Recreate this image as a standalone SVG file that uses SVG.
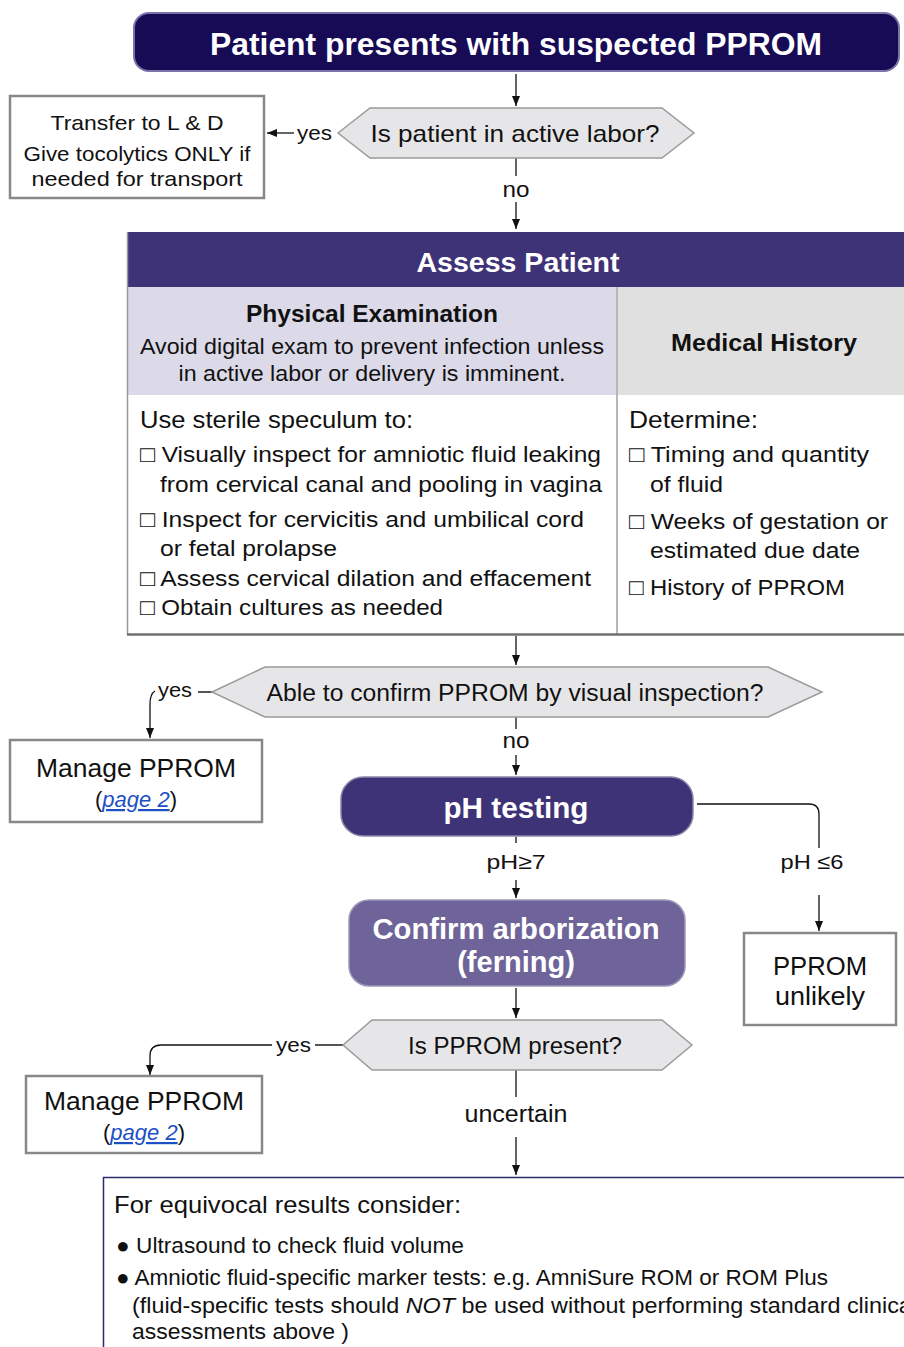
<svg xmlns="http://www.w3.org/2000/svg" width="904" height="1347" viewBox="0 0 904 1347">
<defs>
<style>
text{font-family:"Liberation Sans",Arial,"DejaVu Sans",sans-serif;fill:#111;}
.c{text-anchor:middle;}
.w{fill:#fff;font-weight:bold;}
.b{font-weight:bold;}
.hex{fill:#e6e6e8;stroke:#9a9a9a;stroke-width:1.5;}
.box{fill:#fff;stroke:#888;stroke-width:2.5;}
.ln{fill:none;stroke:#111;stroke-width:1.3;}
.lk{fill:#1d4fc4;font-style:italic;text-decoration:underline;}
</style>
<marker id="ah" viewBox="0 0 10 10" refX="10" refY="5" markerWidth="10" markerHeight="10" markerUnits="userSpaceOnUse" orient="auto"><path d="M0,1 L10,5 L0,9 Z" fill="#111"/></marker>
</defs>
<rect width="904" height="1347" fill="#fff"/>

<g id="connectors">
<line class="ln" x1="516" y1="74" x2="516" y2="106" marker-end="url(#ah)"/>
<line class="ln" x1="294" y1="133" x2="267" y2="133" marker-end="url(#ah)"/>
<line class="ln" x1="516" y1="158" x2="516" y2="176"/>
<line class="ln" x1="516" y1="202" x2="516" y2="229" marker-end="url(#ah)"/>
<line class="ln" x1="516" y1="636" x2="516" y2="665" marker-end="url(#ah)"/>
<line class="ln" x1="198" y1="692" x2="212" y2="692" style="stroke:#555;stroke-width:2"/>
<path class="ln" d="M155,691 Q150,694 150,704 L150,738" marker-end="url(#ah)"/>
<line class="ln" x1="516" y1="717" x2="516" y2="729"/>
<line class="ln" x1="516" y1="755" x2="516" y2="775" marker-end="url(#ah)"/>
<path class="ln" d="M697,804 L809,804 Q819,804 819,814 L819,848"/>
<line class="ln" x1="819" y1="895" x2="819" y2="931" marker-end="url(#ah)"/>
<line class="ln" x1="516" y1="837" x2="516" y2="843"/>
<line class="ln" x1="516" y1="880" x2="516" y2="898" marker-end="url(#ah)"/>
<line class="ln" x1="516" y1="988" x2="516" y2="1018" marker-end="url(#ah)"/>
<line class="ln" x1="315" y1="1045" x2="343" y2="1045" style="stroke:#555;stroke-width:2"/>
<path class="ln" d="M272,1045 L161,1045 Q150,1045 150,1056 L150,1075" marker-end="url(#ah)"/>
<line class="ln" x1="516" y1="1070" x2="516" y2="1097"/>
<line class="ln" x1="516" y1="1137" x2="516" y2="1175" marker-end="url(#ah)"/>
</g>

<g id="n-start">
<rect x="134" y="13" width="765" height="58" rx="15" fill="#170b56" stroke="#7a74a8" stroke-width="2"/>
<text class="c w" x="516" y="55" font-size="31" textLength="612" lengthAdjust="spacingAndGlyphs">Patient presents with suspected PPROM</text>
</g>

<g id="n-labor">
<polygon class="hex" points="338,133 370,108 662,108 694,133 662,158 370,158"/>
<text class="c" x="515" y="142" font-size="24" textLength="289" lengthAdjust="spacingAndGlyphs">Is patient in active labor?</text>
<text x="297" y="140" font-size="21" textLength="35" lengthAdjust="spacingAndGlyphs">yes</text>
<text class="c" x="516" y="197" font-size="22" textLength="27" lengthAdjust="spacingAndGlyphs">no</text>
</g>

<g id="n-transfer">
<rect class="box" x="10" y="96" width="254" height="102"/>
<text class="c" x="137" y="130" font-size="21" textLength="173" lengthAdjust="spacingAndGlyphs">Transfer to L &amp; D</text>
<text class="c" x="137" y="161" font-size="21" textLength="227" lengthAdjust="spacingAndGlyphs">Give tocolytics ONLY if</text>
<text class="c" x="137" y="186" font-size="21" textLength="211" lengthAdjust="spacingAndGlyphs">needed for transport</text>
</g>

<g id="n-assess">
<rect x="127" y="232" width="790" height="55" fill="#3f3377"/>
<text class="c w" x="518" y="272" font-size="28" textLength="203" lengthAdjust="spacingAndGlyphs">Assess Patient</text>
<rect x="127" y="287" width="490" height="108" fill="#dcdae8"/>
<rect x="617" y="287" width="300" height="108" fill="#e0e0e0"/>
<line x1="617" y1="287" x2="617" y2="634" stroke="#b8b8b8" stroke-width="2"/>
<line x1="127.5" y1="232" x2="127.5" y2="634" stroke="#999" stroke-width="1.5"/>
<line x1="127" y1="634.5" x2="904" y2="634.5" stroke="#6f6f6f" stroke-width="2.5"/>
<text class="c b" x="372" y="322" font-size="24" textLength="252" lengthAdjust="spacingAndGlyphs">Physical Examination</text>
<text class="c" x="372" y="354" font-size="22" textLength="464" lengthAdjust="spacingAndGlyphs">Avoid digital exam to prevent infection unless</text>
<text class="c" x="372" y="381" font-size="22" textLength="387" lengthAdjust="spacingAndGlyphs">in active labor or delivery is imminent.</text>
<text class="c b" x="764" y="351" font-size="24" textLength="186" lengthAdjust="spacingAndGlyphs">Medical History</text>
<text x="140" y="428" font-size="24" textLength="273" lengthAdjust="spacingAndGlyphs">Use sterile speculum to:</text>
<text x="140" y="462" font-size="22.5" textLength="461" lengthAdjust="spacingAndGlyphs">□ Visually inspect for amniotic fluid leaking</text>
<text x="160" y="492" font-size="22.5" textLength="442" lengthAdjust="spacingAndGlyphs">from cervical canal and pooling in vagina</text>
<text x="140" y="527" font-size="22.5" textLength="444" lengthAdjust="spacingAndGlyphs">□ Inspect for cervicitis and umbilical cord</text>
<text x="160" y="556" font-size="22.5" textLength="177" lengthAdjust="spacingAndGlyphs">or fetal prolapse</text>
<text x="140" y="586" font-size="22.5" textLength="451" lengthAdjust="spacingAndGlyphs">□ Assess cervical dilation and effacement</text>
<text x="140" y="615" font-size="22.5" textLength="303" lengthAdjust="spacingAndGlyphs">□ Obtain cultures as needed</text>
<text x="629" y="428" font-size="24" textLength="129" lengthAdjust="spacingAndGlyphs">Determine:</text>
<text x="629" y="462" font-size="22.5" textLength="240" lengthAdjust="spacingAndGlyphs">□ Timing and quantity</text>
<text x="650" y="492" font-size="22.5" textLength="73" lengthAdjust="spacingAndGlyphs">of fluid</text>
<text x="629" y="529" font-size="22.5" textLength="259" lengthAdjust="spacingAndGlyphs">□ Weeks of gestation or</text>
<text x="650" y="558" font-size="22.5" textLength="210" lengthAdjust="spacingAndGlyphs">estimated due date</text>
<text x="629" y="595" font-size="22.5" textLength="216" lengthAdjust="spacingAndGlyphs">□ History of PPROM</text>
</g>

<g id="n-visual">
<polygon class="hex" points="212,692 265,667 768,667 822,692 768,717 265,717"/>
<text class="c" x="515" y="701" font-size="23.5" textLength="497" lengthAdjust="spacingAndGlyphs">Able to confirm PPROM by visual inspection?</text>
<text x="158" y="697" font-size="21" textLength="34" lengthAdjust="spacingAndGlyphs">yes</text>
<text class="c" x="516" y="748" font-size="22" textLength="27" lengthAdjust="spacingAndGlyphs">no</text>
</g>

<g id="n-manage1">
<rect class="box" x="10" y="740" width="252" height="82"/>
<text class="c" x="136" y="777" font-size="26" textLength="200" lengthAdjust="spacingAndGlyphs">Manage PPROM</text>
<text class="c" x="136" y="807" font-size="22">(<tspan class="lk">page 2</tspan>)</text>
</g>

<g id="n-ph">
<rect x="341" y="777" width="352" height="59" rx="22" fill="#3f3377" stroke="#8a86a8" stroke-width="1.5"/>
<text class="c w" x="516" y="818" font-size="30" textLength="145" lengthAdjust="spacingAndGlyphs">pH testing</text>
<text class="c" x="516" y="869" font-size="21" textLength="59" lengthAdjust="spacingAndGlyphs">pH≥7</text>
<text class="c" x="812" y="869" font-size="21" textLength="63" lengthAdjust="spacingAndGlyphs">pH ≤6</text>
</g>

<g id="n-unlikely">
<rect class="box" x="744" y="933" width="152" height="92"/>
<text class="c" x="820" y="975" font-size="26" textLength="94" lengthAdjust="spacingAndGlyphs">PPROM</text>
<text class="c" x="820" y="1005" font-size="26" textLength="90" lengthAdjust="spacingAndGlyphs">unlikely</text>
</g>

<g id="n-fern">
<rect x="349" y="900" width="336" height="86" rx="20" fill="#6f6499" stroke="#9d98b8" stroke-width="1.5"/>
<text class="c w" x="516" y="939" font-size="29" textLength="287" lengthAdjust="spacingAndGlyphs">Confirm arborization</text>
<text class="c w" x="516" y="972" font-size="29">(ferning)</text>
</g>

<g id="n-present">
<polygon class="hex" points="343,1045 372,1020 662,1020 692,1045 662,1070 372,1070"/>
<text class="c" x="515" y="1054" font-size="23.5" textLength="214" lengthAdjust="spacingAndGlyphs">Is PPROM present?</text>
<text x="276" y="1052" font-size="21" textLength="35" lengthAdjust="spacingAndGlyphs">yes</text>
<text class="c" x="516" y="1122" font-size="23" textLength="103" lengthAdjust="spacingAndGlyphs">uncertain</text>
</g>

<g id="n-manage2">
<rect class="box" x="26" y="1076" width="236" height="77"/>
<text class="c" x="144" y="1110" font-size="26" textLength="200" lengthAdjust="spacingAndGlyphs">Manage PPROM</text>
<text class="c" x="144" y="1140" font-size="22">(<tspan class="lk">page 2</tspan>)</text>
</g>

<g id="n-equivocal">
<path d="M103.5,1347 L103.5,1177.5 L904,1177.5" fill="none" stroke="#2a2a6e" stroke-width="1.5"/>
<text x="114" y="1213" font-size="24" textLength="347" lengthAdjust="spacingAndGlyphs">For equivocal results consider:</text>
<text x="116" y="1253" font-size="22" textLength="348" lengthAdjust="spacingAndGlyphs">● Ultrasound to check fluid volume</text>
<text x="116" y="1285" font-size="22" textLength="712" lengthAdjust="spacingAndGlyphs">● Amniotic fluid-specific marker tests: e.g. AmniSure ROM or ROM Plus</text>
<text x="132" y="1313" font-size="22" textLength="785" lengthAdjust="spacingAndGlyphs">(fluid-specific tests should <tspan font-style="italic">NOT</tspan> be used without performing standard clinical</text>
<text x="132" y="1339" font-size="22" textLength="217" lengthAdjust="spacingAndGlyphs">assessments above )</text>
</g>
</svg>
